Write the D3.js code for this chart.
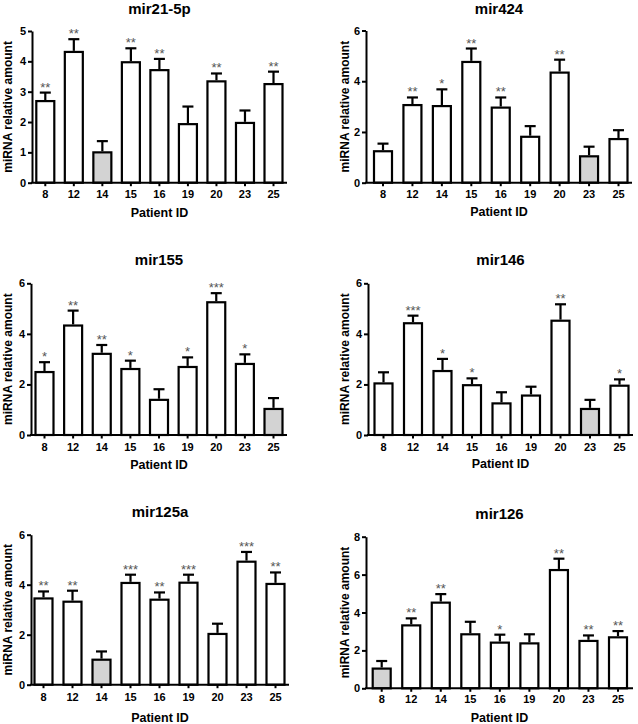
<!DOCTYPE html>
<html><head><meta charset="utf-8">
<script src="https://cdn.jsdelivr.net/npm/d3@7"></script>
<style>body{margin:0;background:#fff} svg{display:block}</style>
</head><body>
<script>
// ---- data ----
const patients = ["8","12","14","15","16","19","20","23","25"];
const titles = ["mir21-5p","mir424","mir155","mir146","mir125a","mir126"];
const controlPatient = ["14","23","25","23","14","8"];
const yMaxes = [5,6,6,6,6,8];
const yTicks21 = [0,1,2,3,4,5];
const yTicks6 = [0,2,4,6];
const yTicks8 = [0,2,4,6,8];
const xLabel = "Patient ID";
const yLabel = "miRNA relative amount";

const mir21Values = [2.69,4.31,1.00,3.97,3.71,1.93,3.34,1.97,3.25];
const mir21Errors = [0.28,0.42,0.37,0.46,0.37,0.58,0.26,0.41,0.41];
const mir21Stars  = ["**","**","","**","**","","**","","**"];

const mir424Values = [1.24,3.06,3.02,4.76,2.96,1.81,4.34,1.04,1.72];
const mir424Errors = [0.30,0.30,0.66,0.53,0.40,0.42,0.51,0.38,0.35];
const mir424Stars  = ["","**","*","**","**","","**","",""];

const mir155Values = [2.49,4.33,3.21,2.61,1.39,2.69,5.25,2.81,1.03];
const mir155Errors = [0.39,0.59,0.35,0.33,0.42,0.38,0.36,0.38,0.43];
const mir155Stars  = ["*","**","**","*","","*","***","*",""];

const mir146Values = [2.04,4.42,2.53,1.97,1.25,1.56,4.52,1.03,1.95];
const mir146Errors = [0.44,0.30,0.48,0.27,0.44,0.35,0.65,0.36,0.25];
const mir146Stars  = ["","***","*","*","","","**","","*"];

const mir125aValues = [3.45,3.32,1.00,4.07,3.40,4.08,2.03,4.92,4.03];
const mir125aErrors = [0.28,0.44,0.33,0.33,0.29,0.32,0.41,0.39,0.46];
const mir125aStars  = ["**","**","","***","**","***","","***","**"];

const mir126Values = [1.04,3.32,4.52,2.85,2.41,2.37,6.24,2.50,2.69];
const mir126Errors = [0.40,0.37,0.45,0.66,0.42,0.48,0.60,0.29,0.33];
const mir126Stars  = ["","**","**","","*","","**","**","**"];

const seriesValues = [mir21Values,mir424Values,mir155Values,mir146Values,mir125aValues,mir126Values];
const seriesErrors = [mir21Errors,mir424Errors,mir155Errors,mir146Errors,mir125aErrors,mir126Errors];
const seriesStars  = [mir21Stars,mir424Stars,mir155Stars,mir146Stars,mir125aStars,mir126Stars];
const seriesTicks  = [yTicks21,yTicks6,yTicks6,yTicks6,yTicks6,yTicks8];

// ---- layout ----
const layout = [
 {axisX:32, axisEnd:287, c0:45.3, c8:273.5, base:182.7, top:31,   titleY:14,  tickY:198, labelY:216.5, ylabX:7.5},
 {axisX:366,axisEnd:632, c0:383,  c8:618.5, base:182.7, top:30.5, titleY:13.5,tickY:198, labelY:215.5, ylabX:345},
 {axisX:31, axisEnd:287, c0:44.5, c8:273.5, base:435,   top:283.3,titleY:265, tickY:451, labelY:468.5, ylabX:8},
 {axisX:368,axisEnd:633, c0:383.5,c8:619.5, base:435,   top:283.3,titleY:265, tickY:451, labelY:467.5, ylabX:345},
 {axisX:31, axisEnd:289, c0:43.5, c8:275.5, base:684.7, top:534.7,titleY:517, tickY:701, labelY:721.5, ylabX:7.5},
 {axisX:366,axisEnd:633, c0:381.7,c8:618,   base:688.3, top:536.7,titleY:519, tickY:703, labelY:721.5, ylabX:345}
];
const FONT = "'Liberation Sans', Arial, Helvetica, sans-serif";
const barW = 18, capW = 11, lw = 2.2;

const svg = d3.select("body").append("svg").attr("width",638).attr("height",724)
  .style("font-family", FONT);

titles.forEach((title, i) => {
  const L = layout[i];
  const vals = seriesValues[i], errs = seriesErrors[i], stars = seriesStars[i];
  const data = patients.map((p, j) => ({p, v: vals[j], e: errs[j], s: stars[j]}));
  const x = d3.scalePoint().domain(patients).range([L.c0, L.c8]);
  const y = d3.scaleLinear().domain([0, yMaxes[i]]).range([L.base, L.top]);
  const g = svg.append("g");

  // title
  g.append("text").attr("x", (L.axisX + L.axisEnd)/2).attr("y", L.titleY)
    .attr("text-anchor","middle").attr("font-weight","bold").attr("font-size",15).text(title);

  // bars
  g.selectAll("rect.bar").data(data).join("rect").attr("class","bar")
    .attr("x", d => x(d.p) - barW/2).attr("y", d => y(d.v))
    .attr("width", barW).attr("height", d => y(0) - y(d.v))
    .attr("fill", d => d.p === controlPatient[i] ? "#d3d3d3" : "#fff")
    .attr("stroke","#000").attr("stroke-width", lw);

  // error bars
  g.selectAll("line.err").data(data).join("line").attr("class","err")
    .attr("x1", d => x(d.p)).attr("x2", d => x(d.p))
    .attr("y1", d => y(d.v) - lw/2).attr("y2", d => y(d.v + d.e))
    .attr("stroke","#000").attr("stroke-width", lw);
  g.selectAll("line.cap").data(data).join("line").attr("class","cap")
    .attr("x1", d => x(d.p) - capW/2).attr("x2", d => x(d.p) + capW/2)
    .attr("y1", d => y(d.v + d.e)).attr("y2", d => y(d.v + d.e))
    .attr("stroke","#000").attr("stroke-width", lw);

  // significance stars
  g.selectAll("text.star").data(data.filter(d => d.s)).join("text").attr("class","star")
    .attr("x", d => x(d.p)).attr("y", d => y(d.v + d.e) - 1)
    .attr("text-anchor","middle").attr("font-size",13).attr("fill","#555").text(d => d.s);

  // y axis
  const ya = g.append("g").attr("transform", `translate(${L.axisX},0)`)
    .call(d3.axisLeft(y).tickValues(seriesTicks[i]).tickSize(4).tickSizeOuter(0).tickPadding(2).tickFormat(d3.format("d")));
  ya.select(".domain").attr("stroke-width", 2);
  ya.selectAll(".tick line").attr("stroke-width", 2);
  ya.selectAll(".tick text").attr("font-size",11).attr("font-weight","bold").attr("fill","#000")
    .style("font-family", FONT);

  // x axis line
  g.append("line").attr("x1", L.axisX - 1).attr("x2", L.axisEnd).attr("y1", y(0)).attr("y2", y(0))
    .attr("stroke","#000").attr("stroke-width", 2);

  // x ticks
  g.selectAll("line.xtick").data(patients).join("line").attr("class","xtick")
    .attr("x1", d => x(d)).attr("x2", d => x(d))
    .attr("y1", y(0)).attr("y2", y(0) + 3.5)
    .attr("stroke","#000").attr("stroke-width", 2);

  // x tick labels
  g.selectAll("text.xt").data(patients).join("text").attr("class","xt")
    .attr("x", d => x(d)).attr("y", L.tickY).attr("text-anchor","middle")
    .attr("font-size",11).attr("font-weight","bold").text(d => d);

  // axis titles
  g.append("text").attr("x", (L.axisX + L.axisEnd)/2).attr("y", L.labelY)
    .attr("text-anchor","middle").attr("font-size",12.5).attr("font-weight","bold").text(xLabel);
  g.append("text").attr("transform", `translate(${L.ylabX},${(L.base + L.top)/2}) rotate(-90)`)
    .attr("dy","0.35em").attr("text-anchor","middle").attr("font-size",12).attr("font-weight","bold").text(yLabel);
});
</script>
</body></html>
